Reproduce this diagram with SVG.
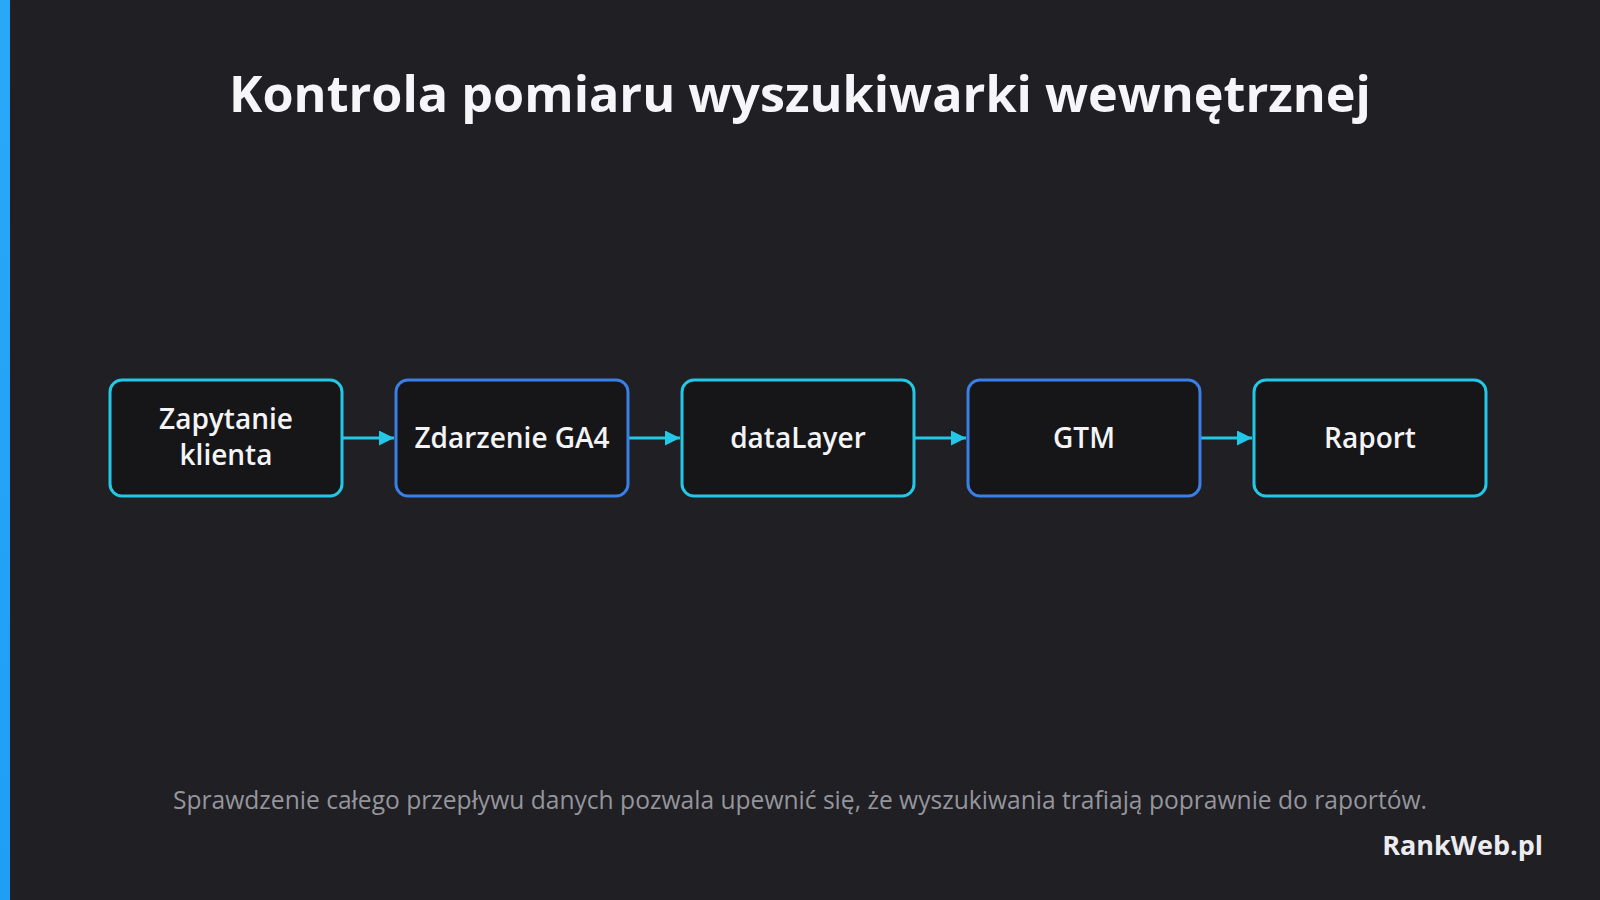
<svg xmlns="http://www.w3.org/2000/svg" width="1600" height="900" viewBox="0 0 1600 900">
<defs>
<linearGradient id="bar" x1="0" y1="0" x2="0" y2="1">
<stop offset="0" stop-color="#2aa8f8"/>
<stop offset="1" stop-color="#1e9ef5"/>
</linearGradient>
<marker id="arr" viewBox="0 0 10 10" refX="10" refY="5" markerWidth="5" markerHeight="5" orient="auto" markerUnits="strokeWidth">
<path d="M0,0 L10,5 L0,10 Z" fill="#22c8e6"/>
</marker>
<style>
.box{fill:#161619;stroke-width:3}
.cy{stroke:#22c8e6}
.bl{stroke:#3a7fe6}
.lbl{font-family:"Open Sans","Noto Sans","DejaVu Sans",sans-serif;font-size:28px;font-weight:600;fill:#f4f4f6;text-anchor:middle}
.con{stroke:#22c8e6;stroke-width:3;fill:none}
</style>
</defs>
<rect x="0" y="0" width="1600" height="900" fill="#1f1f24"/>
<rect x="0" y="0" width="10" height="900" fill="url(#bar)"/>
<text x="800" y="112" font-family="'Open Sans','Noto Sans',sans-serif" font-size="50.3" font-weight="700" fill="#f6f6f8" text-anchor="middle">Kontrola pomiaru wyszukiwarki wewnętrznej</text>
<g id="connectors">
<line class="con" x1="342" y1="438" x2="394" y2="438" marker-end="url(#arr)"/>
<line class="con" x1="628" y1="438" x2="680" y2="438" marker-end="url(#arr)"/>
<line class="con" x1="914" y1="438" x2="966" y2="438" marker-end="url(#arr)"/>
<line class="con" x1="1200" y1="438" x2="1252" y2="438" marker-end="url(#arr)"/>
</g>
<g id="n1"><rect class="box cy" x="110" y="380" width="232" height="116" rx="12"/>
<text class="lbl" x="226" y="429">Zapytanie</text><text class="lbl" x="226" y="465">klienta</text></g>
<g id="n2"><rect class="box bl" x="396" y="380" width="232" height="116" rx="12"/>
<text class="lbl" x="512" y="448">Zdarzenie GA4</text></g>
<g id="n3"><rect class="box cy" x="682" y="380" width="232" height="116" rx="12"/>
<text class="lbl" x="798" y="448">dataLayer</text></g>
<g id="n4"><rect class="box bl" x="968" y="380" width="232" height="116" rx="12"/>
<text class="lbl" x="1084" y="448">GTM</text></g>
<g id="n5"><rect class="box cy" x="1254" y="380" width="232" height="116" rx="12"/>
<text class="lbl" x="1370" y="448">Raport</text></g>
<text x="800" y="809" font-family="'Open Sans','Noto Sans',sans-serif" font-size="24.6" fill="#95959c" text-anchor="middle">Sprawdzenie całego przepływu danych pozwala upewnić się, że wyszukiwania trafiają poprawnie do raportów.</text>
<text x="1543" y="855" font-family="'Open Sans','Noto Sans',sans-serif" font-size="27" font-weight="700" fill="#ececf0" text-anchor="end">RankWeb.pl</text>
</svg>
